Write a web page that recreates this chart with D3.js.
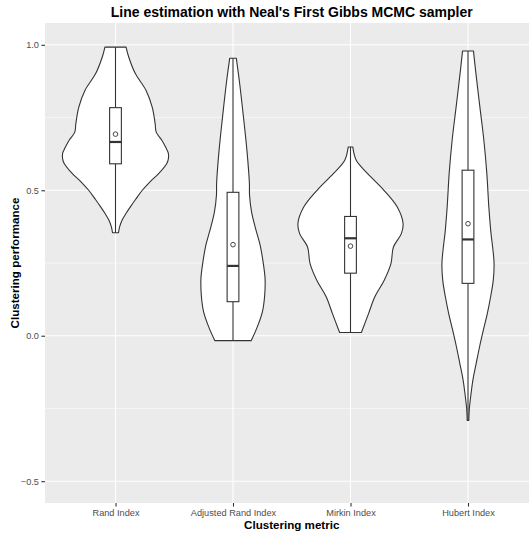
<!DOCTYPE html>
<html>
<head>
<meta charset="utf-8">
<script src="https://cdn.jsdelivr.net/npm/d3@7/dist/d3.min.js"></script>
<style>
  html, body { margin: 0; padding: 0; background: #ffffff; }
  svg { display: block; font-family: "Liberation Sans", Arial, Helvetica, sans-serif; }
</style>
</head>
<body>
<svg id="chart" width="529" height="537"></svg>
<script>
// Clustering metrics on the x axis
const categories = ["Rand Index", "Adjusted Rand Index", "Mirkin Index", "Hubert Index"];

// Violin outlines: value along y and relative density (1 = widest violin)
const randValues = [0.992, 0.958, 0.901, 0.844, 0.786, 0.729, 0.700, 0.672, 0.645, 0.627, 0.608, 0.592, 0.558, 0.530, 0.500, 0.470, 0.443, 0.420, 0.398, 0.375, 0.354];
const randDensity = [0.20, 0.25, 0.375, 0.576, 0.694, 0.75, 0.77, 0.876, 0.957, 1.0, 1.0, 0.97, 0.82, 0.657, 0.507, 0.385, 0.281, 0.197, 0.126, 0.079, 0.056];

const adjValues = [0.954, 0.867, 0.753, 0.638, 0.524, 0.483, 0.426, 0.369, 0.312, 0.255, 0.198, 0.141, 0.083, 0.026, -0.017];
const adjDensity = [0.062, 0.126, 0.197, 0.263, 0.31, 0.313, 0.351, 0.426, 0.512, 0.568, 0.606, 0.60, 0.557, 0.45, 0.343];

const mirkinValues = [0.649, 0.603, 0.557, 0.500, 0.443, 0.386, 0.351, 0.305, 0.248, 0.191, 0.134, 0.077, 0.011];
const mirkinDensity = [0.043, 0.109, 0.325, 0.632, 0.882, 0.994, 0.962, 0.812, 0.765, 0.638, 0.46, 0.343, 0.206];

const hubertValues = [0.979, 0.901, 0.786, 0.672, 0.558, 0.443, 0.352, 0.300, 0.249, 0.191, 0.134, 0.077, 0.020, -0.037, -0.094, -0.151, -0.209, -0.254, -0.291];
const hubertDensity = [0.103, 0.15, 0.225, 0.30, 0.356, 0.394, 0.435, 0.469, 0.493, 0.478, 0.428, 0.366, 0.291, 0.22, 0.156, 0.094, 0.051, 0.024, 0.015];

// Box plot summaries, one entry per category
const whiskerHigh = [0.992, 0.954, 0.649, 0.979];
const upperQuartile = [0.784, 0.493, 0.410, 0.569];
const medians = [0.666, 0.240, 0.335, 0.331];
const lowerQuartile = [0.591, 0.117, 0.215, 0.180];
const whiskerLow = [0.354, -0.017, 0.011, -0.291];
const means = [0.693, 0.313, 0.308, 0.385];

// Axis ticks
const yMajorTicks = [-0.5, 0.0, 0.5, 1.0];
const yMinorTicks = [-0.25, 0.25, 0.75];

const svg = d3.select("#chart");
const panel = { left: 45, right: 538.5, top: 23, bottom: 503 };

const x = d3.scalePoint().domain(categories).range([panel.left, panel.right]).padding(0.6);
const y = d3.scaleLinear().domain([-0.575, 1.075]).range([panel.bottom, panel.top]);
const halfWidth = d3.scaleLinear().domain([0, 1]).range([0, x.step() * 0.45]);
const boxHalf = x.step() * 0.05;

const ink = "#333333";

// Panel background
svg.append("rect")
  .attr("x", panel.left).attr("y", panel.top)
  .attr("width", panel.right - panel.left).attr("height", panel.bottom - panel.top)
  .attr("fill", "#EBEBEB");

// Grid lines
const grid = svg.append("g");
grid.selectAll(".minor").data(yMinorTicks).join("line")
  .attr("x1", panel.left).attr("x2", panel.right)
  .attr("y1", d => y(d)).attr("y2", d => y(d))
  .attr("stroke", "#ffffff").attr("stroke-width", 0.55);
grid.selectAll(".majorY").data(yMajorTicks).join("line")
  .attr("x1", panel.left).attr("x2", panel.right)
  .attr("y1", d => y(d)).attr("y2", d => y(d))
  .attr("stroke", "#ffffff").attr("stroke-width", 1.1);
grid.selectAll(".majorX").data(categories).join("line")
  .attr("x1", d => x(d)).attr("x2", d => x(d))
  .attr("y1", panel.top).attr("y2", panel.bottom)
  .attr("stroke", "#ffffff").attr("stroke-width", 1.1);

// Violins
const violins = [
  { cat: categories[0], v: randValues, d: randDensity },
  { cat: categories[1], v: adjValues, d: adjDensity },
  { cat: categories[2], v: mirkinValues, d: mirkinDensity },
  { cat: categories[3], v: hubertValues, d: hubertDensity }
];

violins.forEach(vi => {
  const cx = x(vi.cat);
  const pts = vi.v.map((val, i) => ({ val, dens: vi.d[i] }));
  const area = d3.area()
    .y(p => y(p.val))
    .x0(p => cx - halfWidth(p.dens))
    .x1(p => cx + halfWidth(p.dens))
    .curve(d3.curveCatmullRom.alpha(0.5));
  svg.append("path")
    .attr("d", area(pts))
    .attr("fill", "#ffffff")
    .attr("stroke", ink)
    .attr("stroke-width", 1.1)
    .attr("stroke-linejoin", "round");
});

// Box plots
const boxes = svg.append("g");
categories.forEach((c, i) => {
  const cx = x(c);
  boxes.append("line")
    .attr("x1", cx).attr("x2", cx)
    .attr("y1", y(whiskerHigh[i])).attr("y2", y(upperQuartile[i]))
    .attr("stroke", ink).attr("stroke-width", 1.1);
  boxes.append("line")
    .attr("x1", cx).attr("x2", cx)
    .attr("y1", y(lowerQuartile[i])).attr("y2", y(whiskerLow[i]))
    .attr("stroke", ink).attr("stroke-width", 1.1);
  boxes.append("rect")
    .attr("x", cx - boxHalf).attr("width", boxHalf * 2)
    .attr("y", y(upperQuartile[i])).attr("height", y(lowerQuartile[i]) - y(upperQuartile[i]))
    .attr("fill", "#ffffff").attr("stroke", ink).attr("stroke-width", 1.1);
  boxes.append("line")
    .attr("x1", cx - boxHalf).attr("x2", cx + boxHalf)
    .attr("y1", y(medians[i])).attr("y2", y(medians[i]))
    .attr("stroke", ink).attr("stroke-width", 2.2);
  boxes.append("circle")
    .attr("cx", cx).attr("cy", y(means[i])).attr("r", 2.3)
    .attr("fill", "#ffffff").attr("stroke", ink).attr("stroke-width", 0.9);
});

// Y axis
const yAxis = svg.append("g").attr("transform", `translate(${panel.left},0)`)
  .call(d3.axisLeft(y).tickValues(yMajorTicks).tickFormat(d3.format(".1f")).tickSize(3.6).tickPadding(2.5));
yAxis.select(".domain").remove();
yAxis.selectAll(".tick line").attr("stroke", ink).attr("stroke-width", 1.1);
yAxis.selectAll(".tick text").attr("fill", "#4D4D4D").style("font-size", "9.2px")
  .style("font-family", "'Liberation Sans', Arial, sans-serif");

// X axis
const xAxis = svg.append("g").attr("transform", `translate(0,${panel.bottom})`)
  .call(d3.axisBottom(x).tickSize(3.6).tickPadding(2.5));
xAxis.select(".domain").remove();
xAxis.selectAll(".tick line").attr("stroke", ink).attr("stroke-width", 1.1);
xAxis.selectAll(".tick text").attr("fill", "#4D4D4D").style("font-size", "9.2px")
  .style("font-family", "'Liberation Sans', Arial, sans-serif");

// Titles
const panelCenterX = (panel.left + panel.right) / 2;
svg.append("text")
  .attr("x", panelCenterX).attr("y", 17)
  .attr("text-anchor", "middle")
  .style("font-size", "14px").style("font-weight", "bold").attr("fill", "#000000")
  .text("Line estimation with Neal's First Gibbs MCMC sampler");

svg.append("text")
  .attr("x", panelCenterX).attr("y", 529)
  .attr("text-anchor", "middle")
  .style("font-size", "11.6px").style("font-weight", "bold").attr("fill", "#000000")
  .text("Clustering metric");

svg.append("text")
  .attr("transform", `translate(19,${(panel.top + panel.bottom) / 2}) rotate(-90)`)
  .attr("text-anchor", "middle")
  .style("font-size", "11.6px").style("font-weight", "bold").attr("fill", "#000000")
  .text("Clustering performance");
</script>
</body>
</html>
